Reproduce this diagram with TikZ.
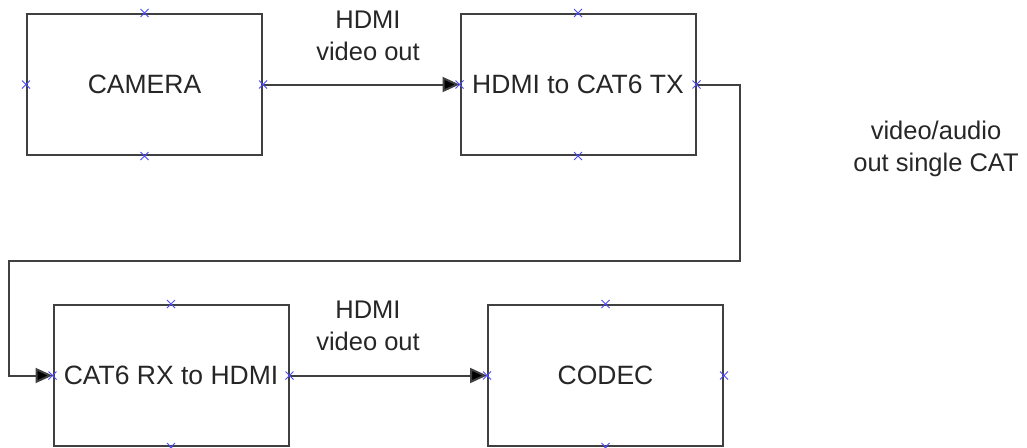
\documentclass[tikz,border=0pt]{standalone}
\usepackage{fontspec}
\setmainfont{Liberation Sans}
\usetikzlibrary{arrows.meta,shapes.misc}
\definecolor{linegray}{HTML}{404040}
\definecolor{xblue}{HTML}{4A4AFF}
\begin{document}
\begin{tikzpicture}[x=1pt,y=-1pt,
  blk/.style={draw=linegray,line width=2pt,minimum width=235pt,minimum height=141pt,inner sep=0pt,font=\fontsize{26.5}{30}\selectfont,text=black!85},
  conn/.style={draw=linegray,line width=2pt,-{Triangle[length=17pt,width=15pt,fill=black]}},
  lbl/.style={align=center,font=\fontsize{25.5}{32}\selectfont,text=black!85},
  xmark/.style={cross out,draw=xblue,line width=1pt,minimum size=7pt,inner sep=0pt}]
\useasboundingbox (0,0) rectangle (1027,447);
\node[blk] (cam) at (144.5,84.5) {CAMERA};
\node[blk] (tx) at (578,84.5) {HDMI to CAT6 TX};
\node[blk] (rx) at (171,375.5) {CAT6 RX to HDMI};
\node[blk] (codec) at (605.5,375.5) {CODEC};
\coordinate (c1) at (740,84.5);
\coordinate (c2) at (740,261);
\coordinate (c3) at (9,261);
\coordinate (c4) at (9,375.5);
\draw[conn] (cam.east) -- (tx.west);
\draw[conn] (tx.east) -- (c1) -- (c2) -- (c3) -- (c4) -- (rx.west);
\draw[conn] (rx.east) -- (codec.west);
\foreach \b in {cam,tx,rx,codec}{
  \foreach \a in {north,south,east,west}{
    \node[xmark] at (\b.\a) {};
  }
}
\node[lbl] (l1) at (368,36) {HDMI\\video out};
\node[lbl] (l2) at (368,326) {HDMI\\video out};
\node[lbl] (l3) at (936,149) {video/audio\\out single CAT};
\end{tikzpicture}
\end{document}
